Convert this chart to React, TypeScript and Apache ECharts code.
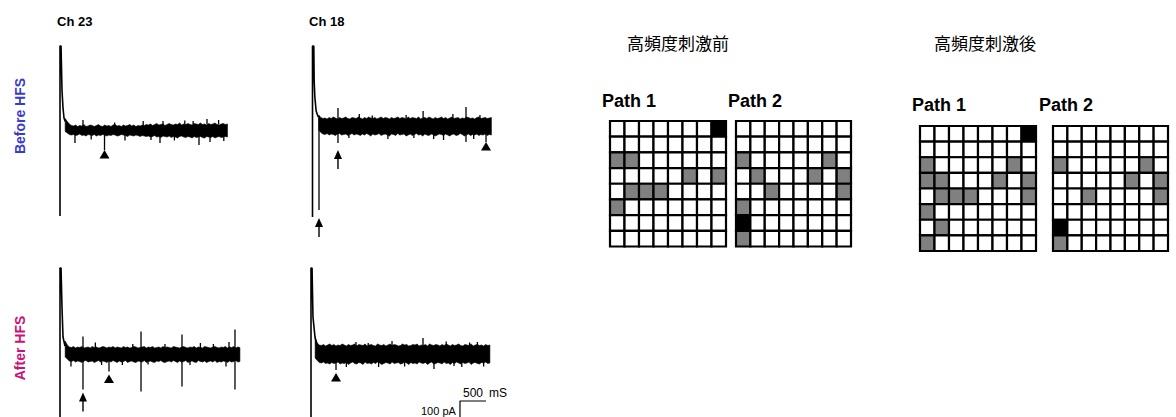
import React, { useEffect, useRef } from "react";
import * as echarts from "echarts";

// ---------- Recorded traces (time in ms, current in pA, baseline = 0) ----------
// Noise band envelopes are sampled every BAND_DT ms starting at each trace's band start.
const BAND_DT = 40;

// Ch 23, before HFS
const ch23BeforeArtifact = [[0, -171], [0, 169], [20, 169], [38, 81], [58, 45], [77, 25], [100, 18]];
const ch23BeforeBandStart = 100;
const ch23BeforeUpper = [
  24, 18, 13, 10, 9, 11, 8, 10, 9, 12, 8, 9, 11, 10, 8, 10, 12, 9, 8, 11,
  9, 10, 8, 11, 12, 9, 10, 8, 11, 9, 10, 12, 9, 11, 8, 10, 9, 11, 10, 12,
  11, 13, 10, 12, 14, 11, 12, 13, 10, 12, 14, 12, 11, 13, 12, 15, 11, 13, 12, 14,
  12, 11, 14, 13, 12, 15, 12, 13, 11, 14, 12, 13, 15, 12, 11, 13, 14, 12, 13];
const ch23BeforeLower = [
  -2, -5, -8, -9, -8, -10, -9, -7, -10, -9, -11, -8, -9, -10, -8, -11, -9, -10, -8, -9,
  -11, -9, -10, -8, -9, -11, -10, -8, -9, -10, -12, -9, -10, -11, -9, -10, -12, -10, -11, -12,
  -11, -13, -12, -10, -13, -12, -14, -11, -12, -13, -11, -14, -12, -13, -15, -12, -11, -13, -14, -12,
  -13, -15, -12, -14, -13, -12, -14, -15, -12, -13, -14, -12, -15, -13, -12, -14, -13, -12, -13];
const ch23BeforeSpikes = [[288, -25, -6], [442, 8, 21], [600, -18, -8], [856, -39, -6], [1050, 8, 16], [1250, -20, -8], [1600, 9, 19], [1750, -19, -9], [1923, -25, -8], [1981, 10, 19], [2200, -20, -10], [2400, 12, 20], [2560, 12, 19], [2673, -29, -10], [2827, 12, 23], [2885, -23, -10], [3050, 12, 21], [3150, -21, -10]];
const ch23BeforeTriangles = [[856, -39]];
const ch23BeforeArrows: number[][] = [];

// Ch 18, before HFS
const ch18BeforeArtifact = [[0, -182], [0, 160], [25, 160], [32, 90], [45, 58], [70, 30], [110, 18]];
const ch18BeforeBandStart = 120;
const ch18BeforeUpper = [
  22, 17, 15, 16, 14, 17, 15, 18, 16, 14, 17, 15, 16, 18, 15, 14, 17, 16, 15, 18,
  16, 14, 17, 15, 18, 16, 15, 17, 14, 16, 18, 15, 17, 16, 14, 17, 15, 16, 18, 15,
  17, 16, 14, 18, 15, 17, 16, 15, 18, 14, 16, 17, 15, 18, 16, 14, 17, 15, 16, 18,
  15, 17, 14, 16, 18, 15, 16, 17, 14, 16, 15, 18, 17, 15, 16, 14, 17, 18, 15, 16,
  17, 15, 16, 17];
const ch18BeforeLower = [
  -8, -13, -16, -17, -15, -18, -16, -17, -19, -16, -15, -18, -17, -16, -19, -17, -15, -18, -16, -17,
  -19, -16, -18, -15, -17, -20, -16, -18, -17, -15, -19, -17, -16, -18, -20, -16, -17, -19, -15, -18,
  -17, -16, -20, -18, -16, -19, -17, -15, -18, -17, -20, -16, -18, -19, -16, -17, -20, -18, -16, -17,
  -19, -16, -18, -20, -17, -16, -19, -18, -15, -17, -20, -18, -16, -19, -17, -18, -16, -19, -17, -18,
  -16, -19, -17, -18];
const ch18BeforeSpikes = [[125, -168, 18], [490, -34, 36], [700, -24, -14], [900, 14, 24], [1150, 14, 21], [1450, -26, -14], [1800, 14, 22], [1950, -24, -14], [2127, 14, 30], [2330, -26, -14], [2520, -28, -14], [2700, 14, 24], [2952, -32, 38], [3100, -26, -14], [3220, 14, 22], [3337, -32, -10]];
const ch18BeforeTriangles = [[3337, -32]];
const ch18BeforeArrows = [[125, -184], [490, -48]];

// Ch 23, after HFS
const ch23AfterArtifact = [[0, -270], [0, 172], [20, 172], [38, 94], [58, 34], [96, 16]];
const ch23AfterBandStart = 100;
const ch23AfterUpper = [
  26, 18, 14, 13, 15, 12, 14, 13, 15, 12, 13, 14, 12, 15, 13, 14, 12, 13, 15, 14,
  12, 14, 13, 15, 12, 14, 13, 12, 15, 13, 14, 12, 13, 15, 14, 12, 13, 14, 15, 12,
  14, 13, 15, 12, 13, 14, 12, 15, 13, 14, 13, 12, 15, 14, 13, 12, 14, 15, 13, 12,
  14, 13, 15, 12, 14, 13, 12, 15, 14, 13, 12, 14, 15, 13, 12, 14, 13, 15, 12, 14,
  13, 15, 12, 14, 13];
const ch23AfterLower = [
  -6, -10, -14, -15, -13, -16, -14, -15, -17, -14, -13, -16, -15, -14, -17, -15, -13, -16, -14, -15,
  -17, -14, -16, -13, -15, -17, -14, -16, -15, -13, -17, -15, -14, -16, -17, -14, -15, -16, -13, -17,
  -15, -14, -16, -17, -14, -15, -13, -16, -17, -15, -14, -16, -13, -15, -17, -14, -16, -15, -13, -17,
  -15, -14, -16, -17, -13, -15, -16, -14, -17, -15, -14, -16, -13, -17, -15, -16, -14, -15, -17, -14,
  -16, -15, -13, -16, -15];
const ch23AfterSpikes = [[211, -25, -10], [442, -71, 35], [680, 10, 23], [800, -22, -10], [942, -35, -10], [1200, -22, -10], [1400, 10, 20], [1558, -75, 45], [1693, -21, -10], [2019, 10, 20], [2346, -65, 39], [2500, -22, -10], [2700, 10, 22], [2950, 10, 20], [3192, -25, -10], [3250, 10, 24], [3365, -71, 49]];
const ch23AfterTriangles = [[942, -41]];
const ch23AfterArrows = [[442, -77]];

// Ch 18, after HFS
const ch18AfterArtifact = [[0, -270], [0, 172], [20, 172], [38, 74], [77, 34], [115, 18]];
const ch18AfterBandStart = 80;
const ch18AfterUpper = [
  32, 22, 18, 17, 19, 16, 18, 20, 17, 19, 16, 18, 17, 20, 18, 16, 19, 17, 18, 20,
  16, 19, 18, 17, 20, 16, 18, 19, 17, 16, 20, 18, 17, 19, 16, 18, 20, 17, 19, 18,
  16, 17, 20, 18, 19, 16, 17, 19, 18, 20, 16, 18, 17, 19, 16, 20, 18, 17, 19, 18,
  16, 19, 17, 20, 18, 16, 19, 17, 18, 20, 17, 16, 19, 18, 17, 20, 16, 18, 19, 17,
  18, 16, 19, 17, 18];
const ch18AfterLower = [
  -8, -13, -17, -18, -16, -19, -18, -20, -17, -19, -18, -16, -20, -18, -19, -17, -21, -18, -16, -19,
  -20, -17, -18, -21, -16, -19, -18, -20, -17, -19, -16, -18, -21, -19, -17, -18, -20, -16, -19, -18,
  -17, -20, -19, -16, -18, -21, -17, -19, -18, -20, -16, -18, -19, -17, -21, -18, -16, -20, -19, -17,
  -18, -20, -16, -19, -18, -21, -17, -19, -16, -18, -20, -17, -19, -18, -16, -21, -18, -17, -19, -20,
  -17, -18, -16, -19, -18];
const ch18AfterSpikes = [[481, -32, -12], [680, -26, -14], [865, 14, 24], [1100, 14, 22], [1300, -26, -14], [1558, 14, 26], [1800, -25, -14], [2154, 14, 32], [2365, -30, -14], [2600, 14, 25], [2750, -24, -14], [2900, -26, -14], [3050, 14, 23], [3200, 14, 24], [3320, -25, -14]];
const ch18AfterTriangles = [[481, -38]];
const ch18AfterArrows: number[][] = [];

// Scale bar: 500 ms horizontal, 100 pA vertical
const scaleBar = [[3365, -94], [2865, -94], [2865, -194]];

// ---------- 8x8 electrode maps (0 = none, 1 = responding, 2 = stimulated) ----------
const mapCols = ["1", "2", "3", "4", "5", "6", "7", "8"];
const mapRows = ["1", "2", "3", "4", "5", "6", "7", "8"];
const beforePath1 = ["00000002", "00000000", "11000000", "00000101", "01110000", "10000000", "00000000", "00000000"];
const beforePath2 = ["00000000", "00000000", "10000010", "01000101", "00100001", "10000000", "20000000", "10000000"];
const afterPath1 = ["00000002", "00000000", "10000010", "11000101", "01110001", "10000000", "01000000", "10000000"];
const afterPath2 = ["00000000", "00000000", "10000010", "00000101", "00100001", "00000000", "20000000", "10000000"];

const CELL_COLORS = ["#ffffff", "#808080", "#000000"];

// ---------- layout ----------
const PX_PER_MS = 26 / 500;
const PX_PER_PA = 0.5;
const T_MIN = -200;
const T_MAX = 3800;

type Trace = {
  x0: number; y0: number; iMin: number; iMax: number;
  artifact: number[][]; bandStart: number; upper: number[]; lower: number[];
  spikes: number[][]; triangles: number[][]; arrows: number[][];
};

const traces: Trace[] = [
  { x0: 60, y0: 130.5, iMin: -280, iMax: 240, artifact: ch23BeforeArtifact, bandStart: ch23BeforeBandStart, upper: ch23BeforeUpper, lower: ch23BeforeLower, spikes: ch23BeforeSpikes, triangles: ch23BeforeTriangles, arrows: ch23BeforeArrows },
  { x0: 312.5, y0: 126, iMin: -280, iMax: 240, artifact: ch18BeforeArtifact, bandStart: ch18BeforeBandStart, upper: ch18BeforeUpper, lower: ch18BeforeLower, spikes: ch18BeforeSpikes, triangles: ch18BeforeTriangles, arrows: ch18BeforeArrows },
  { x0: 60, y0: 354, iMin: -126, iMax: 240, artifact: ch23AfterArtifact, bandStart: ch23AfterBandStart, upper: ch23AfterUpper, lower: ch23AfterLower, spikes: ch23AfterSpikes, triangles: ch23AfterTriangles, arrows: ch23AfterArrows },
  { x0: 311, y0: 354, iMin: -126, iMax: 240, artifact: ch18AfterArtifact, bandStart: ch18AfterBandStart, upper: ch18AfterUpper, lower: ch18AfterLower, spikes: ch18AfterSpikes, triangles: ch18AfterTriangles, arrows: ch18AfterArrows },
];

const maps = [
  { rows: beforePath1, left: 610, top: 121, width: 116, height: 125.5 },
  { rows: beforePath2, left: 736, top: 121, width: 115, height: 125.5 },
  { rows: afterPath1, left: 920, top: 126, width: 116, height: 125 },
  { rows: afterPath2, left: 1053, top: 126, width: 115, height: 125 },
];

const LATIN = "'Liberation Sans', Arial, sans-serif";
const CJK = "'Noto Sans CJK JP', sans-serif";

function buildOption() {
  const grid: any[] = [];
  const xAxis: any[] = [];
  const yAxis: any[] = [];
  const series: any[] = [];

  traces.forEach((tr, g) => {
    grid.push({
      left: tr.x0 + T_MIN * PX_PER_MS,
      top: tr.y0 - tr.iMax * PX_PER_PA,
      width: (T_MAX - T_MIN) * PX_PER_MS,
      height: (tr.iMax - tr.iMin) * PX_PER_PA,
      show: false,
    });
    xAxis.push({ type: "value", gridIndex: g, min: T_MIN, max: T_MAX, show: false });
    yAxis.push({ type: "value", gridIndex: g, min: tr.iMin, max: tr.iMax, show: false });

    // stimulus artifact and decay
    series.push({
      type: "line", xAxisIndex: g, yAxisIndex: g, data: tr.artifact,
      showSymbol: false, lineStyle: { color: "#000", width: 1.6 }, silent: true,
    });
    // noise band
    series.push({
      type: "custom", xAxisIndex: g, yAxisIndex: g, data: [[tr.bandStart, 0]], silent: true,
      renderItem: (_p: any, api: any) => {
        const pts: number[][] = [];
        for (let i = 0; i < tr.upper.length; i++) pts.push(api.coord([tr.bandStart + i * BAND_DT, tr.upper[i]]));
        for (let i = tr.lower.length - 1; i >= 0; i--) pts.push(api.coord([tr.bandStart + i * BAND_DT, tr.lower[i]]));
        return { type: "polygon", shape: { points: pts }, style: { fill: "#000", stroke: "#000", lineWidth: 0.6 } };
      },
    });
    // individual spikes
    series.push({
      type: "custom", xAxisIndex: g, yAxisIndex: g, data: tr.spikes, silent: true,
      renderItem: (_p: any, api: any) => {
        const a = api.coord([api.value(0), api.value(1)]);
        const b = api.coord([api.value(0), api.value(2)]);
        return { type: "line", shape: { x1: a[0], y1: a[1], x2: b[0], y2: b[1] }, style: { stroke: "#000", lineWidth: 1.3 } };
      },
    });
    // triangle markers
    series.push({
      type: "custom", xAxisIndex: g, yAxisIndex: g, data: tr.triangles, silent: true,
      renderItem: (_p: any, api: any) => {
        const c = api.coord([api.value(0), api.value(1)]);
        return {
          type: "polygon",
          shape: { points: [[c[0], c[1]], [c[0] - 5, c[1] + 8.5], [c[0] + 5, c[1] + 8.5]] },
          style: { fill: "#000" },
        };
      },
    });
    // arrow markers
    series.push({
      type: "custom", xAxisIndex: g, yAxisIndex: g, data: tr.arrows, silent: true,
      renderItem: (_p: any, api: any) => {
        const c = api.coord([api.value(0), api.value(1)]);
        return {
          type: "group",
          children: [
            { type: "polygon", shape: { points: [[c[0], c[1]], [c[0] - 4, c[1] + 9], [c[0] + 4, c[1] + 9]] }, style: { fill: "#000" } },
            { type: "line", shape: { x1: c[0], y1: c[1] + 8, x2: c[0], y2: c[1] + 19 }, style: { stroke: "#000", lineWidth: 1.4 } },
          ],
        };
      },
    });
  });

  // scale bar, drawn in the last trace panel
  series.push({
    type: "line", xAxisIndex: 3, yAxisIndex: 3, data: scaleBar, showSymbol: false,
    lineStyle: { color: "#000", width: 1.2 }, silent: true,
  });

  maps.forEach((m, k) => {
    const g = traces.length + k;
    grid.push({ left: m.left, top: m.top, width: m.width, height: m.height, show: false });
    xAxis.push({ type: "category", gridIndex: g, data: mapCols, show: false });
    yAxis.push({ type: "category", gridIndex: g, data: mapRows, inverse: true, show: false });
    const cells: number[][] = [];
    m.rows.forEach((row, r) => {
      row.split("").forEach((ch, c) => cells.push([c, r, Number(ch)]));
    });
    series.push({
      type: "custom", xAxisIndex: g, yAxisIndex: g, data: cells, silent: true,
      renderItem: (_p: any, api: any) => {
        const c = api.coord([api.value(0), api.value(1)]);
        const s = api.size([1, 1]);
        return {
          type: "rect",
          shape: { x: c[0] - s[0] / 2, y: c[1] - s[1] / 2, width: s[0], height: s[1] },
          style: { fill: CELL_COLORS[api.value(2)], stroke: "#000", lineWidth: 2.2 },
        };
      },
    });
  });

  const text = (t: string, x: number, y: number, font: string, fill = "#000") => ({
    type: "text", x, y, silent: true,
    style: { text: t, font, fill, textVerticalAlign: "middle", textAlign: "left" },
  });

  const graphic = [
    text("Ch 23", 57, 21, `bold 13px ${LATIN}`),
    text("Ch 18", 309, 21, `bold 13px ${LATIN}`),
    { type: "text", x: 20, y: 116, rotation: Math.PI / 2, silent: true,
      style: { text: "Before HFS", font: `bold 14px ${LATIN}`, fill: "#3a3acc", textAlign: "center", textVerticalAlign: "middle" } },
    { type: "text", x: 20, y: 348, rotation: Math.PI / 2, silent: true,
      style: { text: "After HFS", font: `bold 14px ${LATIN}`, fill: "#cc1177", textAlign: "center", textVerticalAlign: "middle" } },
    text("500", 463, 393, `12px ${LATIN}`),
    text("mS", 489, 393, `12px ${LATIN}`),
    text("100 pA", 421, 411, `11px ${LATIN}`),
    text("高頻度刺激前", 627, 42, `17px ${CJK}`),
    text("高頻度刺激後", 934, 42, `17px ${CJK}`),
    text("Path 1", 602, 101, `bold 18px ${LATIN}`),
    text("Path 2", 728, 101, `bold 18px ${LATIN}`),
    text("Path 1", 912, 105, `bold 18px ${LATIN}`),
    text("Path 2", 1039, 105, `bold 18px ${LATIN}`),
  ];

  return { animation: false, backgroundColor: "#fff", grid, xAxis, yAxis, series, graphic };
}

export default function App() {
  const ref = useRef<HTMLDivElement>(null);
  useEffect(() => {
    if (!ref.current) return;
    const chart = echarts.init(ref.current, undefined, { renderer: "svg" });
    chart.setOption(buildOption() as any);
    return () => chart.dispose();
  }, []);
  return <div ref={ref} style={{ position: "fixed", left: 0, top: 0, width: 1176, height: 417 }} />;
}
